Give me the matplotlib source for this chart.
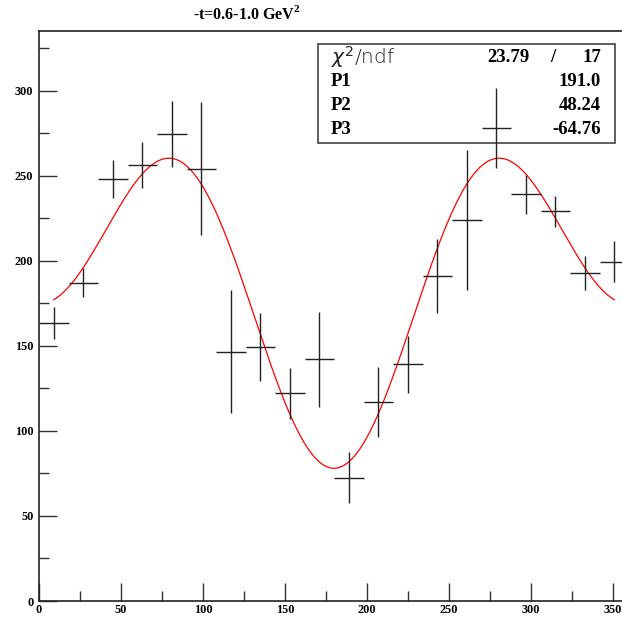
import numpy as np
import matplotlib
matplotlib.use("Agg")
import matplotlib.pyplot as plt
from matplotlib.patches import Rectangle

# bin centres in phi (deg), measured yields and errors
phi = [9, 27, 45, 63, 81, 99, 117, 135, 153, 171,
       189, 207, 225, 243, 261, 279, 297, 315, 333, 351]
counts = [163.5, 187, 248, 256, 274.5, 254, 146.5, 149.5, 122, 142,
          72.5, 117, 139, 191, 224, 278, 239, 229, 192.5, 199.5]
errors = [9.5, 8.5, 11, 13.5, 19.5, 39, 36, 20, 15, 28,
          15, 20.5, 16.5, 22, 41, 23.5, 11.5, 9, 10, 12]
bin_halfwidth = 9

# fit result shown in the stats box
chi2, ndf = 23.79, 17
par_names = ["P1", "P2", "P3"]
par_values = [191.0, 48.24, -64.76]
title = r"-t=0.6-1.0 GeV$^{\mathbf{2}}$"

serif = "Liberation Serif"
plt.rcParams["mathtext.fontset"] = "custom"
plt.rcParams["mathtext.rm"] = "DejaVu Sans"
plt.rcParams["mathtext.it"] = "DejaVu Sans:italic"
plt.rcParams["mathtext.bf"] = "Liberation Serif:bold"

W, H = 622, 617
fig = plt.figure(figsize=(W / 100, H / 100), dpi=100)
# frame is cut off on the right in the original, so the axes run past the edge
x0, x1, ytop, ybot = 39, 629, 31, 601
ax = fig.add_axes([x0 / W, 1 - ybot / H, (x1 - x0) / W, (ybot - ytop) / H])

ax.errorbar(phi, counts, yerr=errors, xerr=bin_halfwidth, fmt="none",
            ecolor="#222222", elinewidth=1.0, capsize=0, zorder=8)

xf = np.linspace(phi[0], phi[-1], 400)
rad = np.deg2rad(xf)
p1, p2, p3 = par_values
ax.plot(xf, p1 + p2 * np.cos(rad) + p3 * np.cos(2 * rad),
        color="#ff0000", lw=0.9, zorder=7)

ax.set_xlim(0, 360)
ax.set_ylim(0, 335)
ax.set_xticks(np.arange(0, 351, 50))
ax.set_xticks(np.arange(25, 351, 50), minor=True)
ax.set_yticks(np.arange(0, 301, 50))
ax.set_yticks(np.arange(25, 335, 50), minor=True)
ax.tick_params(which="both", direction="in", color="#333333", width=1.0,
               top=False, right=False)
ax.tick_params(which="major", length=13)
ax.tick_params(which="minor", length=7)
ax.tick_params(axis="x", pad=2)
ax.tick_params(axis="y", pad=4)
for lab in ax.get_xticklabels() + ax.get_yticklabels():
    lab.set_fontfamily(serif)
    lab.set_fontweight("bold")
    lab.set_fontsize(8.8)
for s in ax.spines.values():
    s.set_color("#222222")
    s.set_linewidth(1.2)

fig.text(247 / W, 1 - 14 / H, title, ha="center", va="center",
         fontsize=11.5, fontfamily=serif, fontweight="bold")

# stats box (sits under the data points, as in the original)
bx0, by0, bx1, by1 = 318, 44, 615, 143
ax.add_patch(Rectangle((bx0 / W, 1 - by1 / H), (bx1 - bx0) / W,
                       (by1 - by0) / H, transform=fig.transFigure,
                       facecolor="white", edgecolor="#444444",
                       lw=1.2, zorder=5, clip_on=False))
rows_y = [57, 81, 106, 130]
fs = 13.5
ax.text(331 / W, 1 - rows_y[0] / H, "$\\chi^2$/ndf", ha="left", va="center",
        transform=fig.transFigure, fontsize=14.5, fontfamily="DejaVu Sans",
        fontweight="light", color="#222222", zorder=6)
ax.text(530 / W, 1 - rows_y[0] / H, f"{chi2:.2f}", ha="right", va="center",
        transform=fig.transFigure, fontsize=fs, fontfamily=serif,
        fontweight="bold", zorder=6)
ax.text(553 / W, 1 - rows_y[0] / H, "/", ha="center", va="center",
        transform=fig.transFigure, fontsize=fs, fontfamily=serif,
        fontweight="bold", zorder=6)
ax.text(601 / W, 1 - rows_y[0] / H, f"{ndf}", ha="right", va="center",
        transform=fig.transFigure, fontsize=fs, fontfamily=serif,
        fontweight="bold", zorder=6)
fmts = ["{:.1f}", "{:.2f}", "{:.2f}"]
for name, val, fmt, yy in zip(par_names, par_values, fmts, rows_y[1:]):
    ax.text(331 / W, 1 - yy / H, name, ha="left", va="center",
            transform=fig.transFigure, fontsize=fs, fontfamily=serif,
            fontweight="bold", zorder=6)
    ax.text(601 / W, 1 - yy / H, fmt.format(val), ha="right", va="center",
            transform=fig.transFigure, fontsize=fs, fontfamily=serif,
            fontweight="bold", zorder=6)

fig.savefig("out.png", dpi=100)
